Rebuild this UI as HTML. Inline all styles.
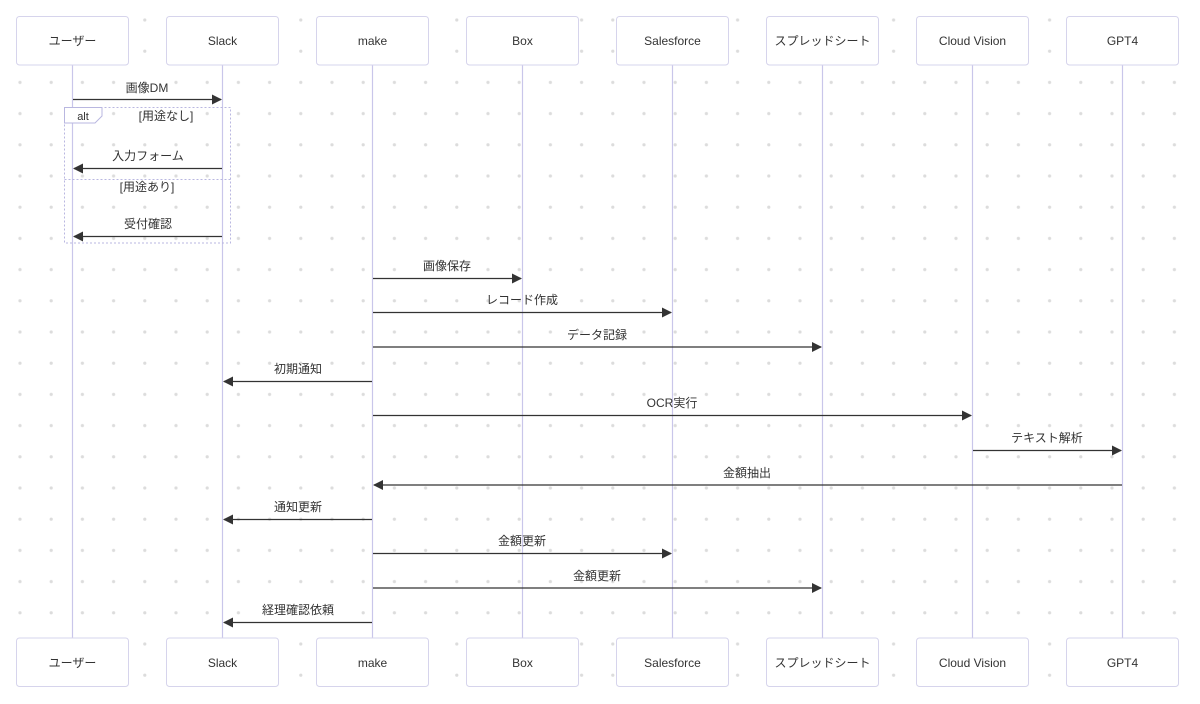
<!DOCTYPE html>
<html><head><meta charset="utf-8"><style>
html,body{margin:0;padding:0;background:#fff;}
svg{display:block;}
text{font-family:"Liberation Sans","Noto Sans CJK JP",sans-serif;fill:#333;}
</style></head><body>
<svg width="1200" height="704" xmlns="http://www.w3.org/2000/svg">
<defs>
<pattern id="dots" x="4.4" y="4.4" width="31.2" height="31.2" patternUnits="userSpaceOnUse">
<circle cx="15.6" cy="15.6" r="1.6" fill="#dcdcdc"/>
</pattern>
<marker id="ah" markerWidth="10" markerHeight="10" refX="9" refY="5" orient="auto" markerUnits="userSpaceOnUse">
<path d="M0,0 L10,5 L0,10 z" fill="#333"/>
</marker>
</defs>
<rect width="1200" height="704" fill="url(#dots)"/>
<g stroke="#c9c6ea" stroke-width="1.2">
<line x1="72.5" y1="65" x2="72.5" y2="638"/>
<line x1="222.5" y1="65" x2="222.5" y2="638"/>
<line x1="372.5" y1="65" x2="372.5" y2="638"/>
<line x1="522.5" y1="65" x2="522.5" y2="638"/>
<line x1="672.5" y1="65" x2="672.5" y2="638"/>
<line x1="822.5" y1="65" x2="822.5" y2="638"/>
<line x1="972.5" y1="65" x2="972.5" y2="638"/>
<line x1="1122.5" y1="65" x2="1122.5" y2="638"/>
</g>
<g fill="#fff" stroke="#d6d4ec" stroke-width="1">
<rect x="16.5" y="16.5" width="112" height="48.5" rx="3"/>
<rect x="166.5" y="16.5" width="112" height="48.5" rx="3"/>
<rect x="316.5" y="16.5" width="112" height="48.5" rx="3"/>
<rect x="466.5" y="16.5" width="112" height="48.5" rx="3"/>
<rect x="616.5" y="16.5" width="112" height="48.5" rx="3"/>
<rect x="766.5" y="16.5" width="112" height="48.5" rx="3"/>
<rect x="916.5" y="16.5" width="112" height="48.5" rx="3"/>
<rect x="1066.5" y="16.5" width="112" height="48.5" rx="3"/>
<rect x="16.5" y="638" width="112" height="48.5" rx="3"/>
<rect x="166.5" y="638" width="112" height="48.5" rx="3"/>
<rect x="316.5" y="638" width="112" height="48.5" rx="3"/>
<rect x="466.5" y="638" width="112" height="48.5" rx="3"/>
<rect x="616.5" y="638" width="112" height="48.5" rx="3"/>
<rect x="766.5" y="638" width="112" height="48.5" rx="3"/>
<rect x="916.5" y="638" width="112" height="48.5" rx="3"/>
<rect x="1066.5" y="638" width="112" height="48.5" rx="3"/>
</g>
<g font-size="12" text-anchor="middle">
<text x="72.5" y="45">ユーザー</text><text x="222.5" y="45">Slack</text><text x="372.5" y="45">make</text><text x="522.5" y="45">Box</text>
<text x="672.5" y="45">Salesforce</text><text x="822.5" y="45">スプレッドシート</text><text x="972.5" y="45">Cloud Vision</text><text x="1122.5" y="45">GPT4</text>
<text x="72.5" y="667">ユーザー</text><text x="222.5" y="667">Slack</text><text x="372.5" y="667">make</text><text x="522.5" y="667">Box</text>
<text x="672.5" y="667">Salesforce</text><text x="822.5" y="667">スプレッドシート</text><text x="972.5" y="667">Cloud Vision</text><text x="1122.5" y="667">GPT4</text>
</g>
<!-- alt box -->
<g fill="none" stroke="#b9b7e0" stroke-width="1" stroke-dasharray="2,2">
<rect x="64.5" y="107.5" width="166" height="135.5"/>
<line x1="64.5" y1="179.5" x2="230.5" y2="179.5"/>
</g>
<path d="M64.5,107.5 H102 V116 L95,123 H64.5 z" fill="#fff" stroke="#b9b7e0" stroke-width="1"/>
<text x="83" y="120" font-size="11" text-anchor="middle">alt</text>
<text x="166" y="120" font-size="12" text-anchor="middle">[用途なし]</text>
<text x="147" y="191" font-size="12" text-anchor="middle">[用途あり]</text>
<g stroke="#333" stroke-width="1.2" marker-end="url(#ah)">
<line x1="73" y1="99.5" x2="221" y2="99.5"/>
<line x1="222" y1="168.5" x2="74" y2="168.5"/>
<line x1="222" y1="236.5" x2="74" y2="236.5"/>
<line x1="373" y1="278.5" x2="521" y2="278.5"/>
<line x1="373" y1="312.5" x2="671" y2="312.5"/>
<line x1="373" y1="347" x2="821" y2="347"/>
<line x1="372" y1="381.5" x2="224" y2="381.5"/>
<line x1="373" y1="415.5" x2="971" y2="415.5"/>
<line x1="973" y1="450.5" x2="1121" y2="450.5"/>
<line x1="1122" y1="485" x2="374" y2="485"/>
<line x1="372" y1="519.5" x2="224" y2="519.5"/>
<line x1="373" y1="553.5" x2="671" y2="553.5"/>
<line x1="373" y1="588" x2="821" y2="588"/>
<line x1="372" y1="622.5" x2="224" y2="622.5"/>
</g>
<g font-size="12" text-anchor="middle">
<text x="147" y="92">画像DM</text>
<text x="148" y="160">入力フォーム</text>
<text x="148" y="228">受付確認</text>
<text x="447" y="270">画像保存</text>
<text x="522" y="304">レコード作成</text>
<text x="597" y="339">データ記録</text>
<text x="298" y="373">初期通知</text>
<text x="672" y="407">OCR実行</text>
<text x="1047" y="442">テキスト解析</text>
<text x="747" y="477">金額抽出</text>
<text x="298" y="511">通知更新</text>
<text x="522" y="545">金額更新</text>
<text x="597" y="580">金額更新</text>
<text x="298" y="614">経理確認依頼</text>
</g>
</svg>
</body></html>
